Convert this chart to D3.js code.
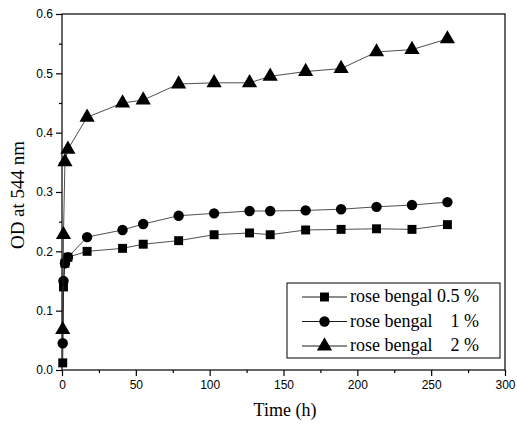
<!DOCTYPE html>
<html>
<head>
<meta charset="utf-8">
<script src="https://cdn.jsdelivr.net/npm/d3@7"></script>
<style>
  body { margin: 0; background: #fff; }
  .tick text { font-family: "Liberation Sans", Arial, sans-serif; font-size: 12px; fill: #000; }
  .label { font-family: "Liberation Serif", "Times New Roman", serif; font-weight: normal; fill: #000; }
</style>
</head>
<body>
<div id="chart"></div>
<script>
// sampling times (h)
const times = [0.5, 1, 2, 4, 17, 41, 55, 79, 103, 127, 141, 165, 189, 213, 237, 261];
const rb05 = [0.012, 0.14, 0.18, 0.19, 0.200, 0.205, 0.212, 0.218, 0.228, 0.231, 0.228, 0.236, 0.237, 0.238, 0.237, 0.245];
const rb1 = [0.045, 0.15, 0.18, 0.19, 0.224, 0.236, 0.246, 0.260, 0.264, 0.268, 0.268, 0.269, 0.271, 0.275, 0.278, 0.283];
const rb2 = [0.068, 0.228, 0.351, 0.372, 0.426, 0.450, 0.455, 0.482, 0.484, 0.484, 0.495, 0.503, 0.508, 0.536, 0.540, 0.558];
const seriesNames = ['rose bengal 0.5 %', 'rose bengal    1 %', 'rose bengal    2 %'];
const xTicks = [0, 50, 100, 150, 200, 250, 300];
const yTicks = [0.0, 0.1, 0.2, 0.3, 0.4, 0.5, 0.6];

const width = 517, height = 430;
const margin = {left: 62, right: 12, top: 14, bottom: 60};

const svg = d3.select('#chart').append('svg')
    .attr('width', width)
    .attr('height', height);

const x = d3.scaleLinear().domain([0, 300]).range([margin.left, width - margin.right]);
const y = d3.scaleLinear().domain([0, 0.6]).range([height - margin.bottom, margin.top]);

// frame
svg.append('rect')
    .attr('x', x(0)).attr('y', y(0.6))
    .attr('width', x(300) - x(0)).attr('height', y(0) - y(0.6))
    .attr('fill', 'none').attr('stroke', '#000').attr('stroke-width', 1.2);

// minor ticks
svg.append('g')
    .attr('transform', `translate(0,${y(0)})`)
    .call(d3.axisBottom(x).tickValues(d3.range(25, 300, 50)).tickSize(3).tickFormat(''))
    .call(g => g.select('.domain').remove());
svg.append('g')
    .attr('transform', `translate(${x(0)},0)`)
    .call(d3.axisLeft(y).tickValues(d3.range(0.05, 0.6, 0.1)).tickSize(3).tickFormat(''))
    .call(g => g.select('.domain').remove());

// axes
svg.append('g')
    .attr('transform', `translate(0,${y(0)})`)
    .call(d3.axisBottom(x).tickValues(xTicks).tickSize(6).tickPadding(4).tickFormat(d3.format('d')))
    .call(g => g.select('.domain').remove());
svg.append('g')
    .attr('transform', `translate(${x(0)},0)`)
    .call(d3.axisLeft(y).tickValues(yTicks).tickSize(6).tickPadding(3).tickFormat(d3.format('.1f')))
    .call(g => g.select('.domain').remove());

svg.selectAll('.tick line').attr('stroke', '#000').attr('stroke-width', 1.2);

// axis titles
svg.append('text')
    .attr('class', 'label')
    .attr('x', 285).attr('y', 416)
    .attr('text-anchor', 'middle')
    .style('font-size', '18px')
    .text('Time (h)');

svg.append('text')
    .attr('class', 'label')
    .attr('transform', 'translate(24,195) rotate(-90)')
    .attr('text-anchor', 'middle')
    .style('font-size', '19px')
    .text('OD at 544 nm');

const symbols = [d3.symbolSquare, d3.symbolCircle, d3.symbolTriangle];
const symSizes = [80, 85, 100];
const allSeries = [rb05, rb1, rb2];

const line = d3.line()
    .x((d, i) => x(times[i]))
    .y(d => y(d));

allSeries.forEach((vals, k) => {
  svg.append('path')
      .datum(vals)
      .attr('d', line)
      .attr('fill', 'none')
      .attr('stroke', '#222')
      .attr('stroke-width', 0.8);

  svg.selectAll('.pt' + k)
      .data(vals)
      .enter()
      .append('path')
      .attr('class', 'pt' + k)
      .attr('transform', (d, i) => `translate(${x(times[i])},${y(d)})`)
      .attr('d', d3.symbol().type(symbols[k]).size(symSizes[k]))
      .attr('fill', '#000');
});

// legend
const legend = svg.append('g');
legend.append('rect')
    .attr('x', 287).attr('y', 283)
    .attr('width', 213).attr('height', 75)
    .attr('fill', '#fff').attr('stroke', '#000').attr('stroke-width', 1);

seriesNames.forEach((name, k) => {
  const ly = 297 + k * 24.5;
  legend.append('line')
      .attr('x1', 302).attr('x2', 347)
      .attr('y1', ly).attr('y2', ly)
      .attr('stroke', '#000').attr('stroke-width', 0.9);
  legend.append('path')
      .attr('transform', `translate(324.5,${ly})`)
      .attr('d', d3.symbol().type(symbols[k]).size(symSizes[k]))
      .attr('fill', '#000');
  legend.append('text')
      .attr('class', 'label')
      .attr('x', 350).attr('y', ly + 5)
      .style('font-size', '18px')
      .style('white-space', 'pre')
      .attr('xml:space', 'preserve')
      .text(name);
});
</script>
</body>
</html>
